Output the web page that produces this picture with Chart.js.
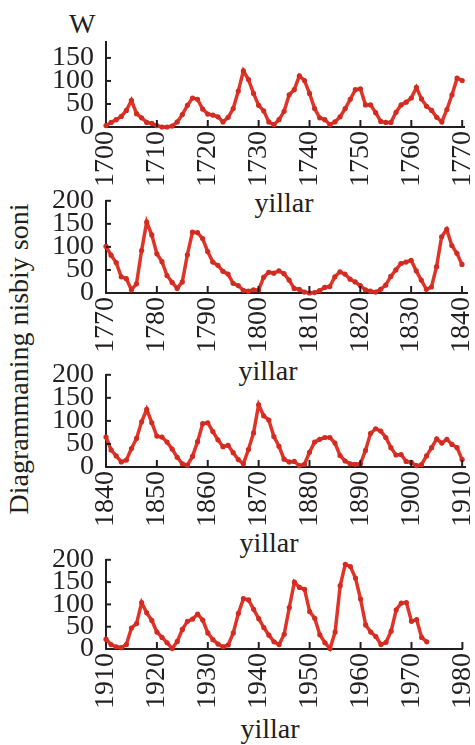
<!DOCTYPE html>
<html>
<head>
<meta charset="utf-8">
<script src="https://cdn.jsdelivr.net/npm/chart.js@4.4.1/dist/chart.umd.min.js"></script>
<style>
  html, body { margin: 0; padding: 0; background: #fff; }
  body { width: 475px; height: 745px; position: relative; overflow: hidden; font-family: 'Liberation Serif', 'DejaVu Serif', serif; color: #231f20; }
  canvas { position: absolute; left: 0; }
  .lbl { position: absolute; font-size: 28px; line-height: 28px; white-space: nowrap; }
</style>
</head>
<body>
<div class="lbl" style="left:69px; top:10px;">W</div>
<div class="lbl" style="left:19px; top:359px; transform: translate(-50%, -50%) rotate(-90deg);">Diagrammaning nisbiy soni</div>
<div class="lbl" style="left:284px; top:189px; transform: translateX(-50%);">yillar</div>
<div class="lbl" style="left:268px; top:357px; transform: translateX(-50%);">yillar</div>
<div class="lbl" style="left:269px; top:529px; transform: translateX(-50%);">yillar</div>
<div class="lbl" style="left:270px; top:715px; transform: translateX(-50%);">yillar</div>

<canvas id="p1" width="500" height="178" style="top:13px"></canvas>
<canvas id="p2" width="500" height="185" style="top:172px"></canvas>
<canvas id="p3" width="500" height="185" style="top:346px"></canvas>
<canvas id="p4" width="500" height="182" style="top:531px"></canvas>

<script>
// Wolf number (relative sunspot number), yearly
const years1 = [1700, 1701, 1702, 1703, 1704, 1705, 1706, 1707, 1708, 1709,
  1710, 1711, 1712, 1713, 1714, 1715, 1716, 1717, 1718, 1719,
  1720, 1721, 1722, 1723, 1724, 1725, 1726, 1727, 1728, 1729,
  1730, 1731, 1732, 1733, 1734, 1735, 1736, 1737, 1738, 1739,
  1740, 1741, 1742, 1743, 1744, 1745, 1746, 1747, 1748, 1749,
  1750, 1751, 1752, 1753, 1754, 1755, 1756, 1757, 1758, 1759,
  1760, 1761, 1762, 1763, 1764, 1765, 1766, 1767, 1768, 1769, 1770];
const wolf1 = [3, 10, 16, 23, 36, 58, 29, 20, 10, 8,
  3, 0, 0, 2, 11, 27, 47, 63, 60, 39,
  28, 26, 22, 11, 21, 40, 78, 122, 103, 73,
  47, 35, 11, 5, 16, 34, 70, 81, 111, 101,
  73, 40, 20, 16, 5, 11, 22, 40, 60, 81,
  83, 48, 48, 31, 12, 10, 10, 32, 48, 54,
  63, 86, 61, 45, 36, 21, 11, 38, 70, 106, 101];

const years2 = [1770, 1771, 1772, 1773, 1774, 1775, 1776, 1777, 1778, 1779,
  1780, 1781, 1782, 1783, 1784, 1785, 1786, 1787, 1788, 1789,
  1790, 1791, 1792, 1793, 1794, 1795, 1796, 1797, 1798, 1799,
  1800, 1801, 1802, 1803, 1804, 1805, 1806, 1807, 1808, 1809,
  1810, 1811, 1812, 1813, 1814, 1815, 1816, 1817, 1818, 1819,
  1820, 1821, 1822, 1823, 1824, 1825, 1826, 1827, 1828, 1829,
  1830, 1831, 1832, 1833, 1834, 1835, 1836, 1837, 1838, 1839, 1840];
const wolf2 = [101, 82, 66, 35, 31, 7, 20, 92, 154, 126,
  85, 68, 38, 23, 10, 24, 83, 132, 131, 118,
  90, 67, 60, 47, 41, 21, 16, 6, 4, 7,
  6, 34, 45, 43, 48, 42, 28, 10, 8, 2,
  0, 1, 5, 12, 14, 35, 46, 41, 30, 24,
  16, 7, 4, 2, 8, 17, 36, 50, 64, 67,
  71, 48, 28, 8, 13, 57, 122, 138, 103, 86, 62];

const years3 = [1840, 1841, 1842, 1843, 1844, 1845, 1846, 1847, 1848, 1849,
  1850, 1851, 1852, 1853, 1854, 1855, 1856, 1857, 1858, 1859,
  1860, 1861, 1862, 1863, 1864, 1865, 1866, 1867, 1868, 1869,
  1870, 1871, 1872, 1873, 1874, 1875, 1876, 1877, 1878, 1879,
  1880, 1881, 1882, 1883, 1884, 1885, 1886, 1887, 1888, 1889,
  1890, 1891, 1892, 1893, 1894, 1895, 1896, 1897, 1898, 1899,
  1900, 1901, 1902, 1903, 1904, 1905, 1906, 1907, 1908, 1909, 1910];
const wolf3 = [65, 37, 24, 11, 15, 40, 62, 98, 125, 96,
  67, 65, 54, 39, 21, 7, 4, 23, 55, 94,
  96, 77, 59, 44, 47, 31, 16, 7, 38, 74,
  135, 111, 102, 66, 45, 17, 11, 12, 3, 6,
  32, 54, 60, 64, 64, 52, 25, 13, 7, 6,
  7, 36, 73, 83, 78, 64, 42, 26, 27, 12,
  10, 3, 5, 24, 42, 61, 52, 60, 49, 42, 16];

const years4 = [1910, 1911, 1912, 1913, 1914, 1915, 1916, 1917, 1918, 1919,
  1920, 1921, 1922, 1923, 1924, 1925, 1926, 1927, 1928, 1929,
  1930, 1931, 1932, 1933, 1934, 1935, 1936, 1937, 1938, 1939,
  1940, 1941, 1942, 1943, 1944, 1945, 1946, 1947, 1948, 1949,
  1950, 1951, 1952, 1953, 1954, 1955, 1956, 1957, 1958, 1959,
  1960, 1961, 1962, 1963, 1964, 1965, 1966, 1967, 1968, 1969,
  1970, 1971, 1972, 1973];
const wolf4 = [22, 10, 5, 3, 10, 47, 57, 104, 81, 64,
  38, 26, 14, 1, 17, 44, 62, 67, 78, 65,
  36, 21, 11, 5, 9, 36, 80, 113, 110, 89,
  68, 48, 31, 16, 10, 33, 93, 150, 138, 134,
  84, 69, 32, 14, 1, 38, 142, 190, 185, 159,
  112, 54, 38, 28, 10, 15, 40, 88, 103, 104,
  62, 66, 26, 16];

const xTicks1 = [1700, 1710, 1720, 1730, 1740, 1750, 1760, 1770];
const xTicks2 = [1770, 1780, 1790, 1800, 1810, 1820, 1830, 1840];
const xTicks3 = [1840, 1850, 1860, 1870, 1880, 1890, 1900, 1910];
const xTicks4 = [1910, 1920, 1930, 1940, 1950, 1960, 1970, 1980];
const yTicks1 = [0, 50, 100, 150];
const yTicks = [0, 50, 100, 150, 200];

const ink = '#231f20';
const red = 'rgb(224, 52, 40)';
const tickFont = { family: "'Liberation Serif', serif", size: 28 };

// tick marks pointing into the plot, like the original figure
const innerTicks = {
  id: 'innerTicks',
  afterDraw(chart) {
    const { ctx, chartArea, scales } = chart;
    ctx.save();
    ctx.strokeStyle = ink;
    ctx.lineWidth = 2;
    scales.x.ticks.forEach(t => {
      const px = scales.x.getPixelForValue(t.value);
      if (px - chartArea.left < 2) return;
      ctx.beginPath();
      ctx.moveTo(px, chartArea.bottom);
      ctx.lineTo(px, chartArea.bottom - 7);
      ctx.stroke();
    });
    scales.y.ticks.forEach(t => {
      const py = scales.y.getPixelForValue(t.value);
      if (chartArea.bottom - py < 2) return;
      ctx.beginPath();
      ctx.moveTo(chartArea.left, py);
      ctx.lineTo(chartArea.left + 5, py);
      ctx.stroke();
    });
    ctx.restore();
  }
};

function makePanel(id, years, values, xTicks, yTickList, xMin, xMax, yMax) {
  new Chart(document.getElementById(id), {
    type: 'line',
    data: {
      datasets: [{
        data: years.map((y, i) => ({ x: y, y: values[i] })),
        borderColor: red,
        borderWidth: 3.5,
        pointRadius: 2.6,
        pointBackgroundColor: 'rgb(210, 44, 34)',
        pointBorderWidth: 0,
        tension: 0,
        clip: false
      }]
    },
    options: {
      responsive: false,
      animation: false,
      layout: { padding: { top: 20, right: 30, left: 0, bottom: 0 } },
      plugins: { legend: { display: false }, tooltip: { enabled: false } },
      scales: {
        x: {
          type: 'linear',
          min: xMin,
          max: xMax,
          afterBuildTicks: s => { s.ticks = xTicks.map(v => ({ value: v })); },
          afterFit: s => { s.height = 64; },
          grid: { display: false, drawTicks: false },
          border: { display: true, color: ink, width: 2 },
          ticks: {
            autoSkip: false, minRotation: 90, maxRotation: 90, padding: 4,
            color: ink, font: tickFont,
            callback: v => String(v)
          }
        },
        y: {
          min: 0,
          max: yMax,
          afterBuildTicks: s => { s.ticks = yTickList.map(v => ({ value: v })); },
          afterFit: s => { s.width = 106; },
          grid: { display: false, drawTicks: false },
          border: { display: true, color: ink, width: 2 },
          ticks: { autoSkip: false, padding: 12, color: ink, font: tickFont, callback: v => String(v) }
        }
      }
    },
    plugins: [innerTicks]
  });
}

makePanel('p1', years1, wolf1, xTicks1, yTicks1, 1700, 1770.5, 185);
makePanel('p2', years2, wolf2, xTicks2, yTicks, 1770, 1841, 200);
makePanel('p3', years3, wolf3, xTicks3, yTicks, 1840, 1910.6, 200);
makePanel('p4', years4, wolf4, xTicks4, yTicks, 1910, 1980, 200);
</script>
</body>
</html>
